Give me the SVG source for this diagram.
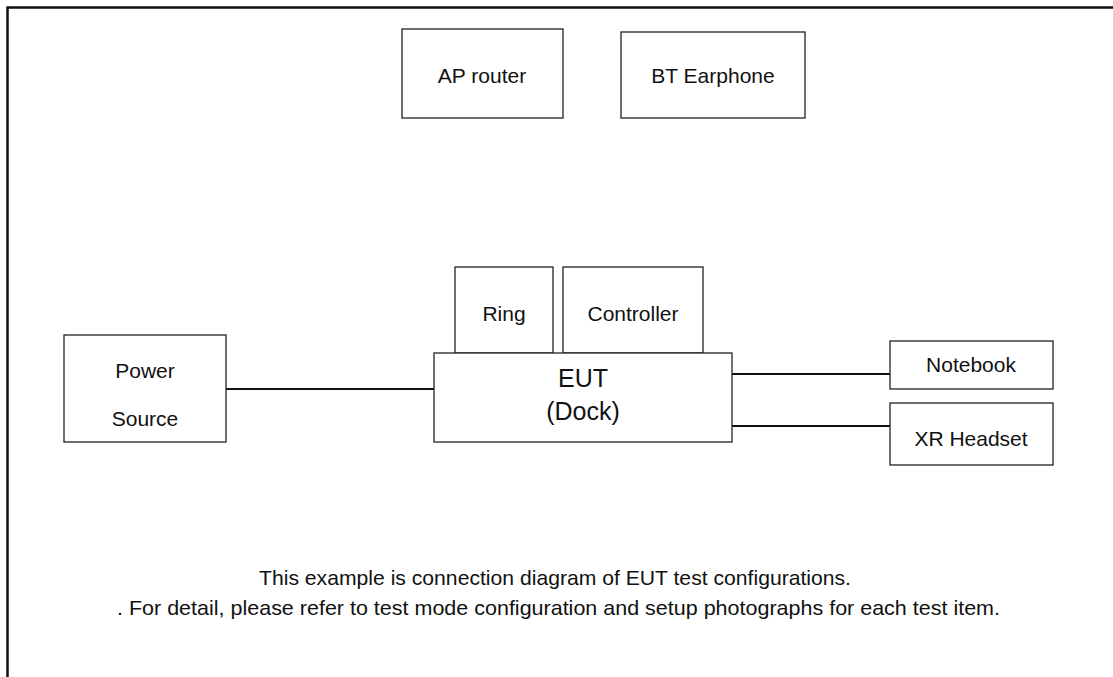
<svg xmlns="http://www.w3.org/2000/svg" width="1113" height="677" viewBox="0 0 1113 677">
<style>
.box{fill:#fff;stroke:#222;stroke-width:1.3}
.t{font-family:"Liberation Sans",Arial,sans-serif;font-size:21px;fill:#111;text-anchor:middle}
.big{font-size:25px}
.note{font-family:"Liberation Sans",Arial,sans-serif;font-size:21px;fill:#111;text-anchor:middle}
.wire{stroke:#111;stroke-width:2;fill:none}
</style>
<rect width="1113" height="677" fill="#fff"/>
<path d="M7.5,677 V7.5 H1113" fill="none" stroke="#111" stroke-width="2.5"/>
<g id="connectors">
<line class="wire" x1="226" y1="389" x2="434" y2="389"/>
<line class="wire" x1="732" y1="374" x2="890" y2="374"/>
<line class="wire" x1="732" y1="426" x2="890" y2="426"/>
</g>
<g id="ap-router"><rect class="box" x="402" y="29" width="161" height="89"/><text class="t" x="482" y="83">AP router</text></g>
<g id="bt-earphone"><rect class="box" x="621" y="32" width="184" height="86"/><text class="t" x="713" y="83">BT Earphone</text></g>
<g id="ring"><rect class="box" x="455" y="267" width="98" height="86"/><text class="t" x="504" y="321">Ring</text></g>
<g id="controller"><rect class="box" x="563" y="267" width="140" height="86"/><text class="t" x="633" y="321">Controller</text></g>
<g id="eut"><rect class="box" x="434" y="353" width="298" height="89"/><text class="t big" x="583" y="387">EUT</text><text class="t big" x="583" y="420">(Dock)</text></g>
<g id="power-source"><rect class="box" x="64" y="335" width="162" height="107"/><text class="t" x="145" y="378">Power</text><text class="t" x="145" y="426">Source</text></g>
<g id="notebook"><rect class="box" x="890" y="341" width="163" height="48"/><text class="t" x="971" y="372">Notebook</text></g>
<g id="xr-headset"><rect class="box" x="890" y="403" width="163" height="62"/><text class="t" x="971" y="446">XR Headset</text></g>
<text class="note" x="555" y="585" textLength="592" lengthAdjust="spacingAndGlyphs">This example is connection diagram of EUT test configurations.</text>
<text class="note" x="558.5" y="615" textLength="883" lengthAdjust="spacingAndGlyphs">. For detail, please refer to test mode configuration and setup photographs for each test item.</text>
</svg>
